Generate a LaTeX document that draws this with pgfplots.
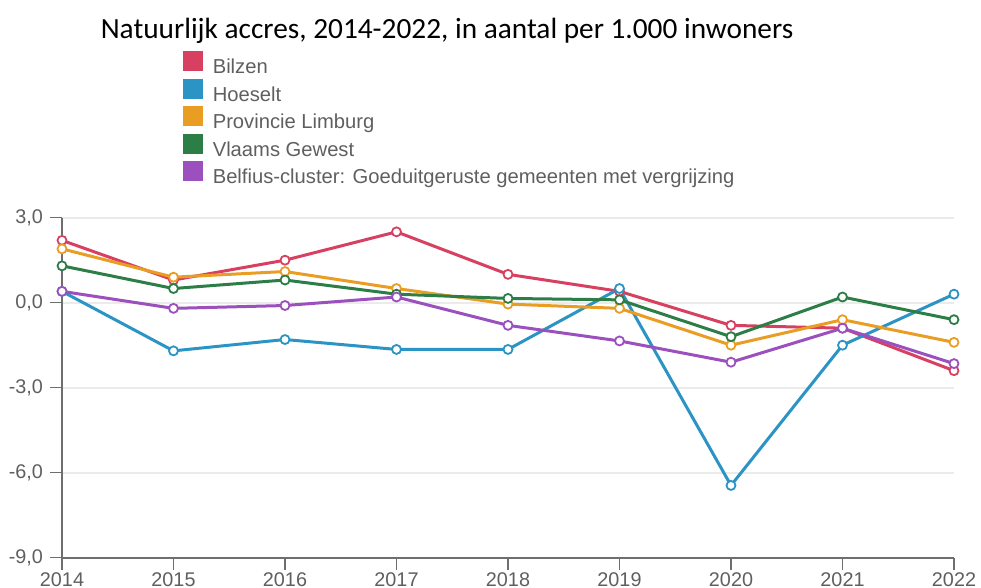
\documentclass[border=0pt]{standalone}
\usepackage{fontspec}
\setmainfont{Liberation Sans}
\newfontfamily\titlefont{Carlito}
\usepackage{pgfplots}
\pgfplotsset{compat=1.18}
\definecolor{cBil}{RGB}{215,64,96}
\definecolor{cHoe}{RGB}{43,148,196}
\definecolor{cLim}{RGB}{233,158,35}
\definecolor{cVla}{RGB}{44,125,70}
\definecolor{cBel}{RGB}{155,80,190}
\definecolor{gridgray}{RGB}{235,235,235}
\definecolor{axisgray}{RGB}{110,110,110}
\definecolor{labelgray}{RGB}{95,95,95}
\begin{document}
\begin{tikzpicture}
\useasboundingbox (0,0) rectangle (981pt,588pt);
\node[anchor=base west, inner sep=0pt, font=\titlefont\fontsize{29.3}{29.3}\selectfont] at (100.6pt,549.7pt) {Natuurlijk accres, 2014-2022, in aantal per 1.000 inwoners};
\begin{axis}[
  at={(62pt,30.3pt)}, anchor=south west,
  scale only axis, width=892pt, height=340pt,
  xmin=2014, xmax=2022, ymin=-9, ymax=3,
  xtick={2014,2015,2016,2017,2018,2019,2020,2021,2022},
  xticklabels={2014,2015,2016,2017,2018,2019,2020,2021,2022},
  ytick={-9,-6,-3,0,3},
  yticklabels={{-9,0},{-6,0},{-3,0},{0,0},{3,0}},
  axis lines*=left,
  tick align=outside,
  major tick length=12pt,
  ymajorgrids,
  grid style={color=gridgray, line width=2pt},
  axis line style={color=axisgray, line width=2pt},
  tick style={color=axisgray, line width=1.5pt},
  tick label style={font=\fontsize{19.8}{19.8}\selectfont, text=labelgray},
  yticklabel style={xshift=-3.5pt},
  xticklabel style={inner sep=0pt, yshift=-2.8pt},
  clip=false,
  every axis plot/.append style={line width=3pt, mark=*, mark size=4.5pt, mark options={fill=white, line width=1.8pt, solid}},
  legend image code/.code={\path[fill, draw=none] (0pt,-3.2pt) rectangle (20pt,16.8pt);},
  legend style={at={(axis description cs:0.1353,1.4895)}, anchor=north west, draw=none, fill=none, inner sep=0pt, row sep=2.2pt, column sep=9.9pt,
    font=\fontsize{20.2}{20.2}\selectfont,
    nodes={inner sep=0pt, text height=14pt, text depth=3pt, text=labelgray}},
  legend cell align=left,
]
\addplot[color=cBil] coordinates {(2014,2.2) (2015,0.8) (2016,1.5) (2017,2.5) (2018,1.0) (2019,0.4) (2020,-0.8) (2021,-0.9) (2022,-2.4)};
\addlegendentry{Bilzen}
\addplot[color=cHoe] coordinates {(2014,0.4) (2015,-1.7) (2016,-1.3) (2017,-1.65) (2018,-1.65) (2019,0.5) (2020,-6.45) (2021,-1.5) (2022,0.3)};
\addlegendentry{Hoeselt}
\addplot[color=cLim] coordinates {(2014,1.9) (2015,0.9) (2016,1.1) (2017,0.5) (2018,-0.05) (2019,-0.2) (2020,-1.5) (2021,-0.6) (2022,-1.4)};
\addlegendentry{Provincie Limburg}
\addplot[color=cVla] coordinates {(2014,1.3) (2015,0.5) (2016,0.8) (2017,0.3) (2018,0.15) (2019,0.1) (2020,-1.2) (2021,0.2) (2022,-0.6)};
\addlegendentry{Vlaams Gewest}
\addplot[color=cBel] coordinates {(2014,0.4) (2015,-0.2) (2016,-0.1) (2017,0.2) (2018,-0.8) (2019,-1.35) (2020,-2.1) (2021,-0.9) (2022,-2.15)};
\addlegendentry{Belfius-cluster: Goeduitgeruste gemeenten met vergrijzing}
\end{axis}
\end{tikzpicture}
\end{document}
